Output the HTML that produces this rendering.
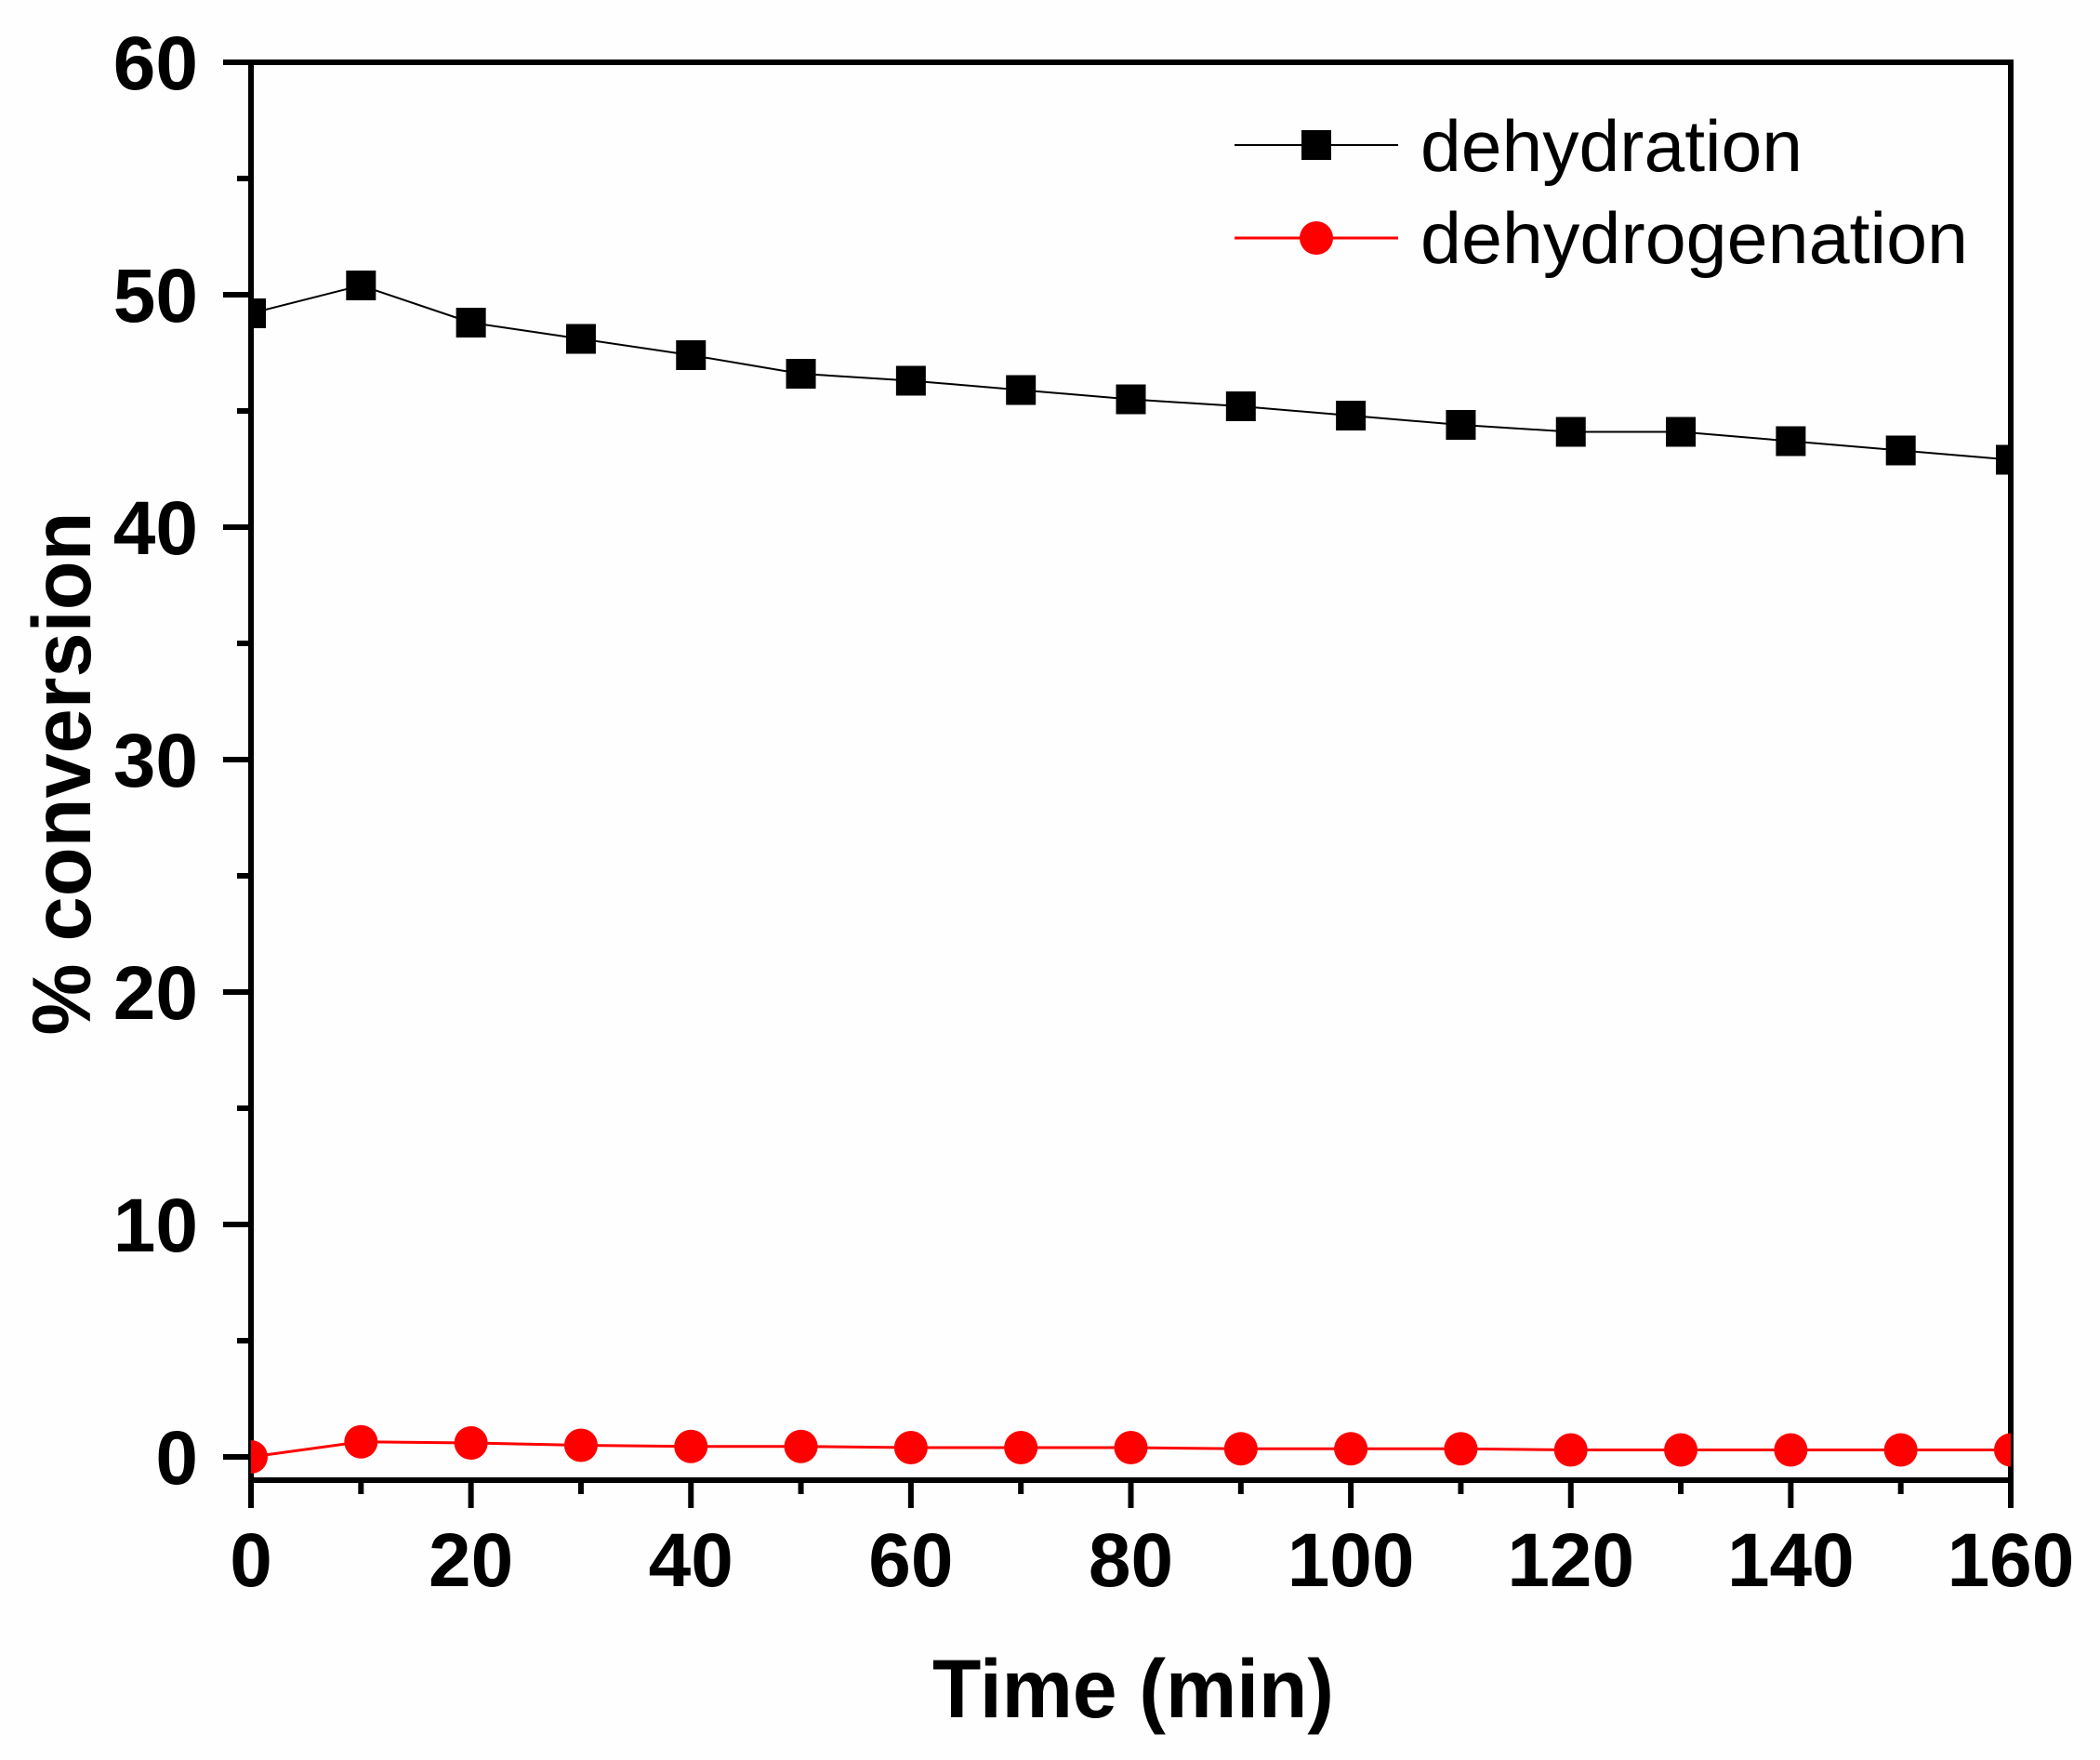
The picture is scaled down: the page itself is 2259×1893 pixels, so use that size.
<!DOCTYPE html>
<html><head><meta charset="utf-8"><style>
html,body{margin:0;padding:0;background:#fff;}
svg{display:block;font-family:"Liberation Sans",Arial,sans-serif;}
</style></head><body>
<svg id="chart" width="2259" height="1893" viewBox="0 0 2259 1893" xmlns="http://www.w3.org/2000/svg">
<rect width="2259" height="1893" fill="#fefefe"/>
<defs><clipPath id="plotclip"><rect x="270" y="67" width="1893" height="1525"/></clipPath></defs>
<g id="axes"></g>
<g id="series" clip-path="url(#plotclip)"></g>
<g id="legend">
  <line x1="1328" y1="156" x2="1504" y2="156" stroke="#000" stroke-width="2"/>
  <rect x="1400" y="140" width="32" height="32" fill="#000"/>
  <text x="1528" y="184" font-size="78" textLength="411" lengthAdjust="spacingAndGlyphs">dehydration</text>
  <line x1="1328" y1="256" x2="1504" y2="256" stroke="#f00" stroke-width="3"/>
  <circle cx="1416" cy="256" r="18" fill="#f00"/>
  <text x="1528" y="283" font-size="78" textLength="589" lengthAdjust="spacingAndGlyphs">dehydrogenation</text>
</g>
<text x="1003" y="1847" font-size="89" font-weight="bold" textLength="432" lengthAdjust="spacingAndGlyphs">Time (min)</text>
<text transform="translate(97,832) rotate(-90)" text-anchor="middle" font-size="89" font-weight="bold" textLength="563" lengthAdjust="spacingAndGlyphs">% conversion</text>
</svg>
<script>
const times = [0,10,20,30,40,50,60,70,80,90,100,110,120,130,140,150,160];
const dehydration = [49.2,50.4,48.8,48.1,47.4,46.6,46.3,45.9,45.5,45.2,44.8,44.4,44.1,44.1,43.7,43.3,42.9];
const dehydrogenation = [0,0.65,0.6,0.5,0.45,0.45,0.4,0.4,0.4,0.35,0.35,0.35,0.3,0.3,0.3,0.3,0.3];
const xTicks = [0,20,40,60,80,100,120,140,160];
const yTicks = [0,10,20,30,40,50,60];

const X0=270,X1=2163,Y0=1567,Ytop=67,B=1592;
const sx = v => X0 + (v-0)/160*(X1-X0);
const sy = v => Y0 - (v/60)*(Y0-Ytop);
const NS="http://www.w3.org/2000/svg";
function mk(tag, attrs, parent){const e=document.createElementNS(NS,tag);for(const k in attrs)e.setAttribute(k,attrs[k]);parent.appendChild(e);return e;}
const ax=document.getElementById('axes'), se=document.getElementById('series');

const fr=mk('rect',{x:X0,y:Ytop,width:X1-X0,height:B-Ytop,fill:'none',stroke:'#000','stroke-width':6},ax);



for(let v=0;v<=60;v+=5){
  const major=v%10===0;
  const t=mk('line',{x1:X0-(major?30:15),x2:X0,y1:sy(v),y2:sy(v),stroke:'#000','stroke-width':6},ax);
  
  
}
yTicks.forEach(v=>{
  const t=mk('text',{x:213,y:sy(v)+29,'text-anchor':'end','font-size':82,'font-weight':'bold'},ax);
  t.textContent=v;
  
  
});
for(let v=0;v<=160;v+=10){
  const major=v%20===0;
  const t=mk('line',{x1:sx(v),x2:sx(v),y1:B,y2:B+(major?30:15),stroke:'#000','stroke-width':6},ax);
  
  
}
xTicks.forEach(v=>{
  const t=mk('text',{x:sx(v),y:1706,'text-anchor':'middle','font-size':82,'font-weight':'bold'},ax);
  t.textContent=v;
  
  
});

const l1=mk('polyline',{points:times.map((t,i)=>sx(t)+','+sy(dehydration[i])).join(' '),fill:'none',stroke:'#000','stroke-width':2},se);


const l2=mk('polyline',{points:times.map((t,i)=>sx(t)+','+sy(dehydrogenation[i])).join(' '),fill:'none',stroke:'#f00','stroke-width':3},se);


times.forEach((t,i)=>{
  const r=mk('rect',{x:sx(t)-16,y:sy(dehydration[i])-16,width:32,height:32,fill:'#000'},se);
  
  
  const c=mk('circle',{cx:sx(t),cy:sy(dehydrogenation[i]),r:18,fill:'#f00'},se);
  
  
});
</script>
</body></html>
